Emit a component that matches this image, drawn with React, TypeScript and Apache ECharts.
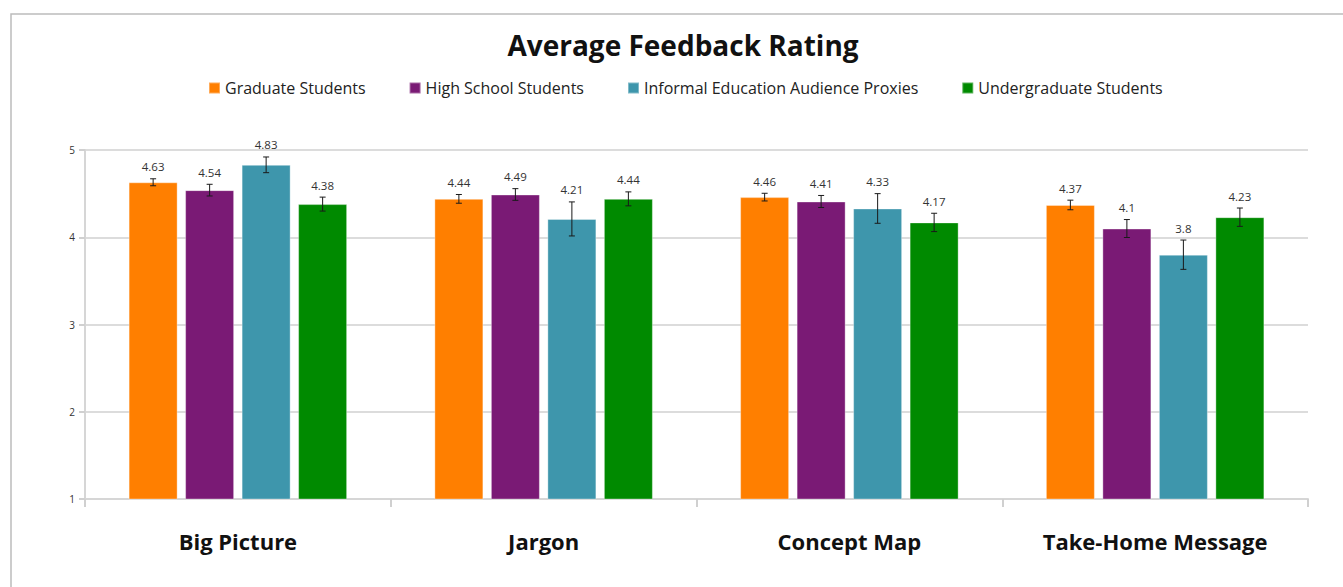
import React, { useEffect, useRef } from "react";
import * as echarts from "echarts";

const categories = ["Big Picture", "Jargon", "Concept Map", "Take-Home Message"];
const seriesNames = [
  "Graduate Students",
  "High School Students",
  "Informal Education Audience Proxies",
  "Undergraduate Students",
];
const colors = ["#FF7F00", "#7A1A75", "#3E96AC", "#008A00"];
const graduate = [4.63, 4.44, 4.46, 4.37];
const highSchool = [4.54, 4.49, 4.41, 4.1];
const informal = [4.83, 4.21, 4.33, 3.8];
const undergrad = [4.38, 4.44, 4.17, 4.23];
const graduateErr = [0.04, 0.05, 0.044, 0.055];
const highSchoolErr = [0.067, 0.067, 0.069, 0.103];
const informalErr = [0.09, 0.195, 0.17, 0.168];
const undergradErr = [0.08, 0.08, 0.105, 0.105];
const yTicks = [1, 2, 3, 4, 5];

const values = [graduate, highSchool, informal, undergrad];
const errors = [graduateErr, highSchoolErr, informalErr, undergradErr];

const FONT = "'Open Sans', 'Noto Sans', sans-serif";
const BAR_W = 49;
const BAR_GAP = 7.5;

export default function App() {
  const ref = useRef<HTMLDivElement>(null);
  useEffect(() => {
    if (!ref.current) return;
    const chart = echarts.init(ref.current, null, { renderer: "svg" });
    const barSeries = values.map((vals, i) => ({
      name: seriesNames[i],
      type: "bar",
      data: vals,
      barWidth: BAR_W,
      barGap: (BAR_GAP / BAR_W) * 100 + "%",
      itemStyle: {
        color: colors[i],
        borderColor: "rgba(255,255,255,0.35)",
        borderWidth: 1,
      },
      z: 2,
    }));
    const errSeries = values.map((vals, i) => ({
      name: seriesNames[i] + " err",
      type: "custom",
      data: vals.map((v, k) => [k, v, errors[i][k]]),
      z: 5,
      silent: true,
      renderItem: (params: any, api: any) => {
        const x = api.value(0);
        const v = api.value(1);
        const e = api.value(2);
        const top = api.coord([x, v + e]);
        const bot = api.coord([x, v - e]);
        const off = (i - 1.5) * (BAR_W + BAR_GAP);
        const cx = top[0] + off;
        const cap = 3;
        const st = { stroke: "#1a1a1a", lineWidth: 1 };
        return {
          type: "group",
          children: [
            { type: "line", shape: { x1: cx, y1: top[1], x2: cx, y2: bot[1] }, style: st },
            { type: "line", shape: { x1: cx - cap, y1: top[1], x2: cx + cap, y2: top[1] }, style: st },
            { type: "line", shape: { x1: cx - cap, y1: bot[1], x2: cx + cap, y2: bot[1] }, style: st },
            {
              type: "text",
              x: cx,
              y: top[1] - 12,
              style: {
                text: String(v),
                fill: "#333",
                font: "11.5px " + FONT,
                align: "center",
                verticalAlign: "middle",
              },
            },
          ],
        };
      },
    }));
    chart.setOption({
      animation: false,
      backgroundColor: "#ffffff",
      textStyle: { fontFamily: FONT },
      title: {
        text: "Average Feedback Rating",
        left: 678,
        textAlign: "center",
        top: 26,
        textStyle: { fontSize: 28, fontWeight: "bold", color: "#111", fontFamily: FONT },
      },
      legend: {
        data: seriesNames,
        left: 203,
        top: 75,
        itemWidth: 11,
        itemHeight: 11,
        itemGap: 43,
        icon: "rect",
        textStyle: { fontSize: 16, color: "#222", fontFamily: FONT, padding: [0, 0, 0, 0] },
      },
      grid: { left: 85, right: 35, top: 150, bottom: 88 },
      xAxis: {
        type: "category",
        data: categories,
        axisLine: { lineStyle: { color: "#d6d6d6", width: 2 } },
        axisTick: { show: true, length: 8, lineStyle: { color: "#d0d0d0", width: 2 } },
        axisLabel: { fontSize: 22, fontWeight: "bold", color: "#111", margin: 31, fontFamily: FONT },
      },
      yAxis: {
        type: "value",
        min: yTicks[0],
        max: yTicks[yTicks.length - 1],
        interval: 1,
        axisLine: { show: true, lineStyle: { color: "#d6d6d6", width: 2 } },
        axisTick: { show: true, length: 6, lineStyle: { color: "#d0d0d0", width: 2 } },
        axisLabel: { fontSize: 10, color: "#333", margin: 10, fontFamily: FONT },
        splitLine: { lineStyle: { color: "#dcdcdc", width: 2 } },
      },
      graphic: [
        {
          type: "rect",
          shape: { x: 11, y: 14, width: 1400, height: 700 },
          style: { fill: "none", stroke: "#bcbcbc", lineWidth: 1.5 },
          silent: true,
          z: -10,
        },
      ],
      series: [...barSeries, ...errSeries],
    });
    return () => chart.dispose();
  }, []);
  return (
    <div
      ref={ref}
      style={{ position: "fixed", left: 0, top: 0, width: 1343, height: 587 }}
    />
  );
}
